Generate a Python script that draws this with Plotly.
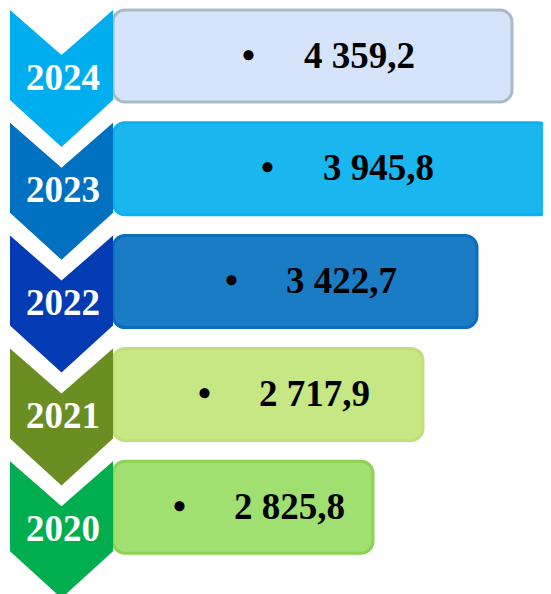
import plotly.graph_objects as go

# Data
years = ["2024", "2023", "2022", "2021", "2020"]
values = ["4 359,2", "3 945,8", "3 422,7", "2 717,9", "2 825,8"]

# Styling of the infographic (staircase bar ends, colours)
bar_right = [512, 550, 477, 423, 373]
chevron_colors = ["#00aeef", "#0070c0", "#033bb4", "#6b8e23", "#00ad4f"]
bar_fills = ["#d6e4fb", "#19b6ef", "#1a7cc5", "#c6e783", "#a0e070"]
bar_lines = ["#a8bbc5", "#0bb0ec", "#0b6ebd", "#bfe07c", "#8fd152"]

W, H = 551, 594
off = 8  # page body margin
top0, pitch = 10, 112.8
left, right_c = 10, 113
bar_h = 92

fig = go.Figure()

tops = [top0 + i * pitch for i in range(len(years))]
mid = (left + right_c) / 2

# Bars (drawn first, chevrons overlap their left ends)
for i, y in enumerate(years):
    fig.add_trace(go.Bar(
        y=[tops[i] + bar_h / 2],
        x=[bar_right[i] - right_c],
        base=[right_c],
        orientation="h",
        width=bar_h,
        marker=dict(color=bar_fills[i], line=dict(color=bar_lines[i], width=3)),
        hoverinfo="skip",
        showlegend=False,
    ))

# Chevrons
for i, y in enumerate(years):
    t = tops[i]
    xs = [left, mid, right_c, right_c, mid, left, left]
    ys = [t, t + 45, t, t + 90, t + 137, t + 90, t]
    fig.add_trace(go.Scatter(
        x=xs, y=ys, mode="lines", fill="toself",
        fillcolor=chevron_colors[i], line=dict(width=0, color=chevron_colors[i]),
        hoverinfo="skip", showlegend=False,
    ))

font_serif = "Liberation Serif"
annotations = []
for i, y in enumerate(years):
    t = tops[i]
    annotations.append(dict(
        x=mid + 1, y=t + 67, text="<b>" + y + "</b>", showarrow=False,
        xanchor="center", yanchor="middle",
        font=dict(family=font_serif, size=37, color="white"),
    ))
    c = (right_c + bar_right[i]) / 2
    annotations.append(dict(
        x=c - 64, y=t + 45, text="<b>•</b>", showarrow=False,
        xanchor="center", yanchor="middle",
        font=dict(family=font_serif, size=37, color="black"),
    ))
    annotations.append(dict(
        x=c - 11, y=t + 45, text="<b>" + values[i] + "</b>", showarrow=False,
        xanchor="left", yanchor="middle",
        font=dict(family=font_serif, size=37, color="black"),
    ))

fig.update_layout(
    width=W - off, height=H - off,
    margin=dict(l=0, r=0, t=0, b=0),
    paper_bgcolor="white", plot_bgcolor="white",
    barmode="overlay", barcornerradius=12,
    xaxis=dict(range=[off, W], visible=False, fixedrange=True),
    yaxis=dict(range=[H, off], visible=False, fixedrange=True),
    annotations=annotations,
)

fig.write_html("out.html", default_width=f"{W - off}px", default_height=f"{H - off}px")
